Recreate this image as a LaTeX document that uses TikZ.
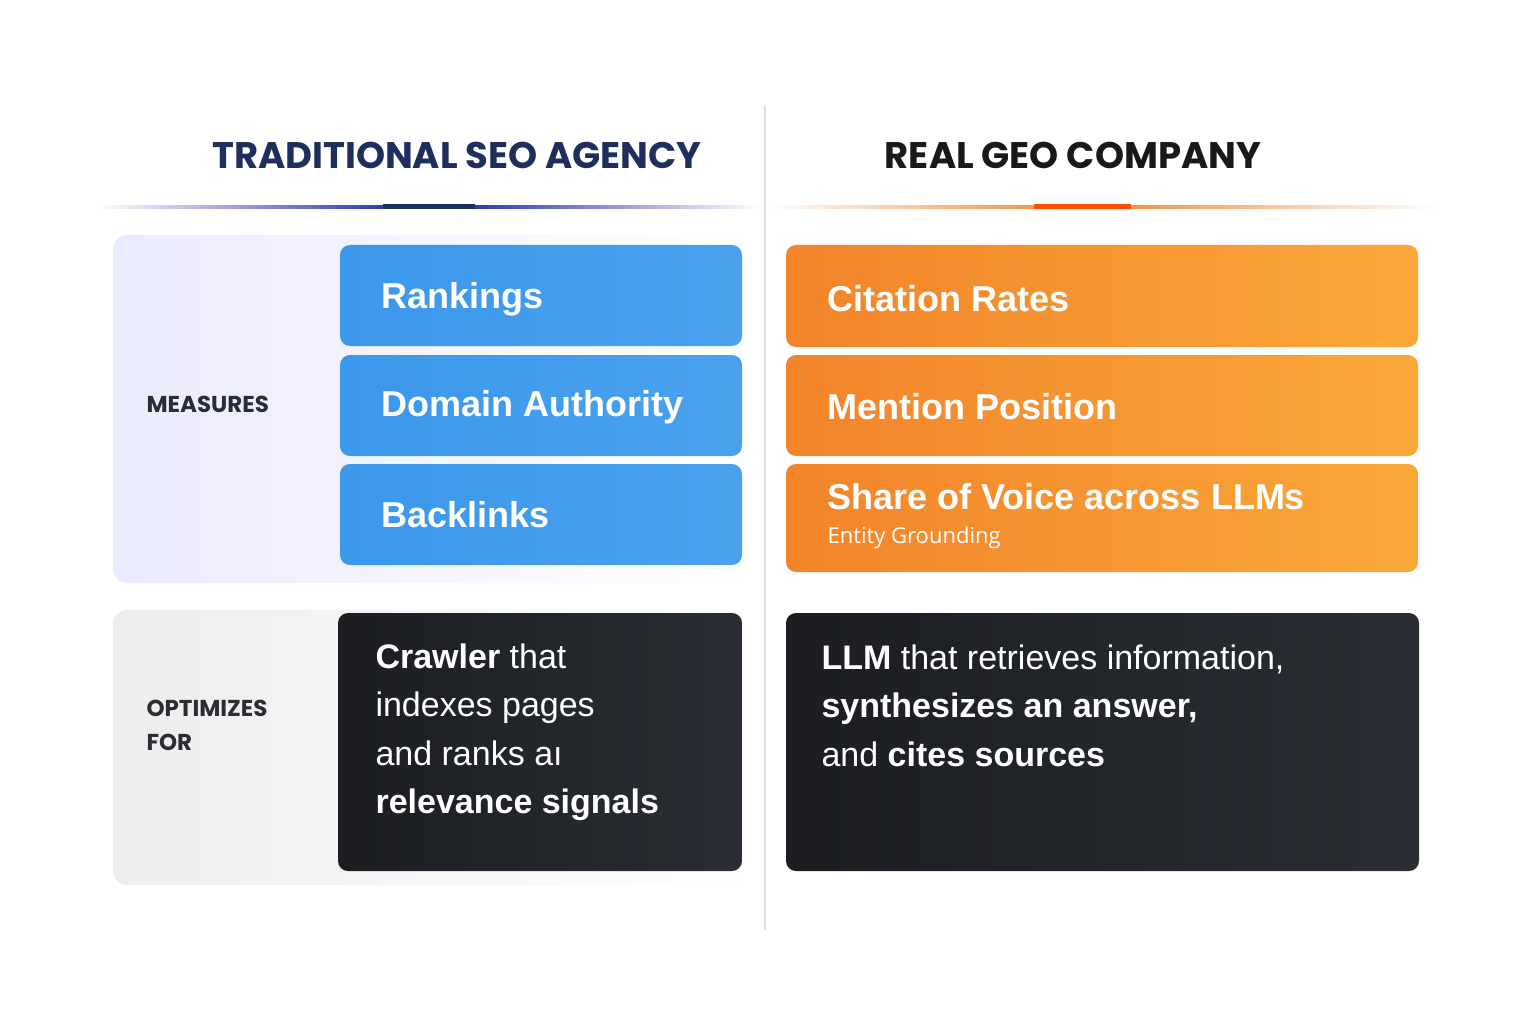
\documentclass[tikz,border=0pt]{standalone}
\usepackage{fontspec}
\setmainfont{Liberation Sans}
\newfontfamily\headf{Poppins}
\newfontfamily\bodyf{Open Sans}
\definecolor{navy}{HTML}{1E2F5E}
\definecolor{bluebox}{HTML}{3B97EA}
\definecolor{blueboxb}{HTML}{4AA2EE}
\definecolor{orA}{HTML}{F2842A}
\definecolor{orB}{HTML}{FAA83A}
\definecolor{darkA}{HTML}{1B1D21}
\definecolor{darkB}{HTML}{2A2E34}
\definecolor{lbl}{HTML}{2A2D33}
\begin{document}
\begin{tikzpicture}[x=1pt,y=-1pt,
  box/.style={rounded corners=10pt,draw=none},
  btxt/.style={anchor=west,text=white,font=\fontsize{36}{40}\selectfont\bfseries},
  dtxt/.style={anchor=north west,text=white,align=left,font=\fontsize{34}{48.5}\selectfont},
  lab/.style={anchor=west,text=lbl,align=left,font=\headf\fontsize{23}{34}\selectfont\bfseries},
  head/.style={font=\headf\fontsize{37}{40}\selectfont\bfseries}]
\useasboundingbox[fill=white] (0,0) rectangle (1536,1024);
% divider
\draw[black!12,line width=1.5pt] (765,105) -- (765,930);
% headers
\node[head,text=navy] (h1) at (457,155) {TRADITIONAL SEO AGENCY};
\node[head,text=black!90] (h2) at (1073,155) {REAL GEO COMPANY};
\shade[left color=white,right color=blue!50!navy] (97,206) rectangle (430,208.5);
\shade[right color=white,left color=blue!50!navy] (430,206) rectangle (762,208.5);
\fill[navy] (383,204) rectangle (475,209);
\shade[left color=white,right color=orA] (767,206) rectangle (1082,208.5);
\shade[right color=white,left color=orA] (1082,206) rectangle (1440,208.5);
\fill[orange!60!red] (1034,204) rectangle (1131,209);
% panels
\shade[rounded corners=14pt,left color=blue!8,right color=white] (113,235) rectangle (760,583);
\shade[rounded corners=14pt,left color=black!7,right color=white] (113,610) rectangle (760,885);
\node[lab] (m) at (143,404) {MEASURES};
\node[lab] (o) at (143,725) {OPTIMIZES\\FOR};
% blue boxes
\shade[box,left color=bluebox,right color=blueboxb] (340,245) rectangle (742,346);
\shade[box,left color=bluebox,right color=blueboxb] (340,355) rectangle (742,456);
\shade[box,left color=bluebox,right color=blueboxb] (340,464) rectangle (742,565);
\node[btxt] (b1) at (378,299) {Rankings};
\node[btxt] (b2) at (378,407) {Domain Authority};
\node[btxt] (b3) at (378,515) {Backlinks};
% orange boxes
\shade[box,left color=orA,right color=orB] (786,245) rectangle (1418,347);
\shade[box,left color=orA,right color=orB] (786,355) rectangle (1418,456);
\shade[box,left color=orA,right color=orB] (786,464) rectangle (1418,572);
\node[btxt] (c1) at (824,299) {Citation Rates};
\node[btxt] (c2) at (824,407) {Mention Position};
\node[btxt] (c3) at (824,497) {Share of Voice across LLMs};
\node[anchor=west,text=white,font=\bodyf\fontsize{22}{26}\selectfont] (c4) at (824,538) {Entity Grounding};
% dark boxes
\shade[box,left color=darkA,right color=darkB] (338,613) rectangle (742,871);
\shade[box,left color=darkA,right color=darkB] (786,613) rectangle (1419,871);
\node[dtxt] (d1) at (372,640) {\textbf{Crawler} that\\indexes pages\\and ranks aı\\\textbf{relevance signals}};
\node[dtxt] (d2) at (818,641) {\textbf{LLM} that retrieves information,\\\textbf{synthesizes an answer,}\\and \textbf{cites sources}};
\end{tikzpicture}
\end{document}
